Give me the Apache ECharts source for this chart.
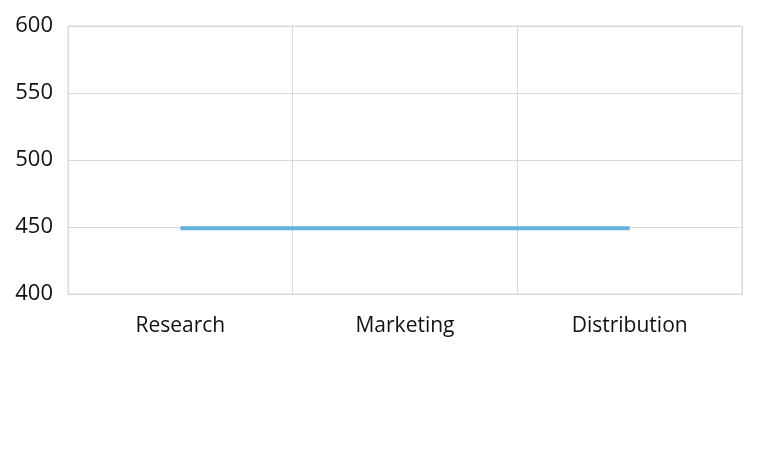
<!DOCTYPE html>
<html>
<head>
<meta charset="utf-8">
<script src="https://cdn.jsdelivr.net/npm/echarts@6/dist/echarts.min.js"></script>
<style>
  html, body { margin: 0; padding: 0; background: #fff; }
  #chart { width: 766px; height: 452px; }
</style>
</head>
<body>
<div id="chart"></div>
<script>
const categories = ['Research', 'Marketing', 'Distribution']
const values = [449, 449, 449]
const yTicks = { min: 400, max: 600, interval: 50 }

const chart = echarts.init(document.getElementById('chart'))

const gridColor = '#d9d9d9'

chart.setOption({
  animation: false,
  textStyle: { fontFamily: '"Open Sans", "Noto Sans", sans-serif' },
  grid: { left: 68, right: 24, top: 26, bottom: 158, show: true, borderColor: gridColor, borderWidth: 1 },
  xAxis: {
    type: 'category',
    data: categories,
    boundaryGap: true,
    axisLine: { lineStyle: { color: gridColor } },
    axisTick: { show: false },
    splitLine: { show: true, lineStyle: { color: gridColor } },
    axisLabel: { color: '#111', fontSize: 21, margin: 22 }
  },
  yAxis: {
    type: 'value',
    min: yTicks.min,
    max: yTicks.max,
    interval: yTicks.interval,
    axisLine: { show: true, lineStyle: { color: gridColor } },
    axisTick: { show: false },
    splitLine: { lineStyle: { color: gridColor } },
    axisLabel: { color: '#111', fontSize: 22, margin: 15 }
  },
  series: [{
    type: 'line',
    data: values,
    symbol: 'none',
    lineStyle: { color: '#62b4da', width: 4 }
  }]
})
</script>
</body>
</html>
